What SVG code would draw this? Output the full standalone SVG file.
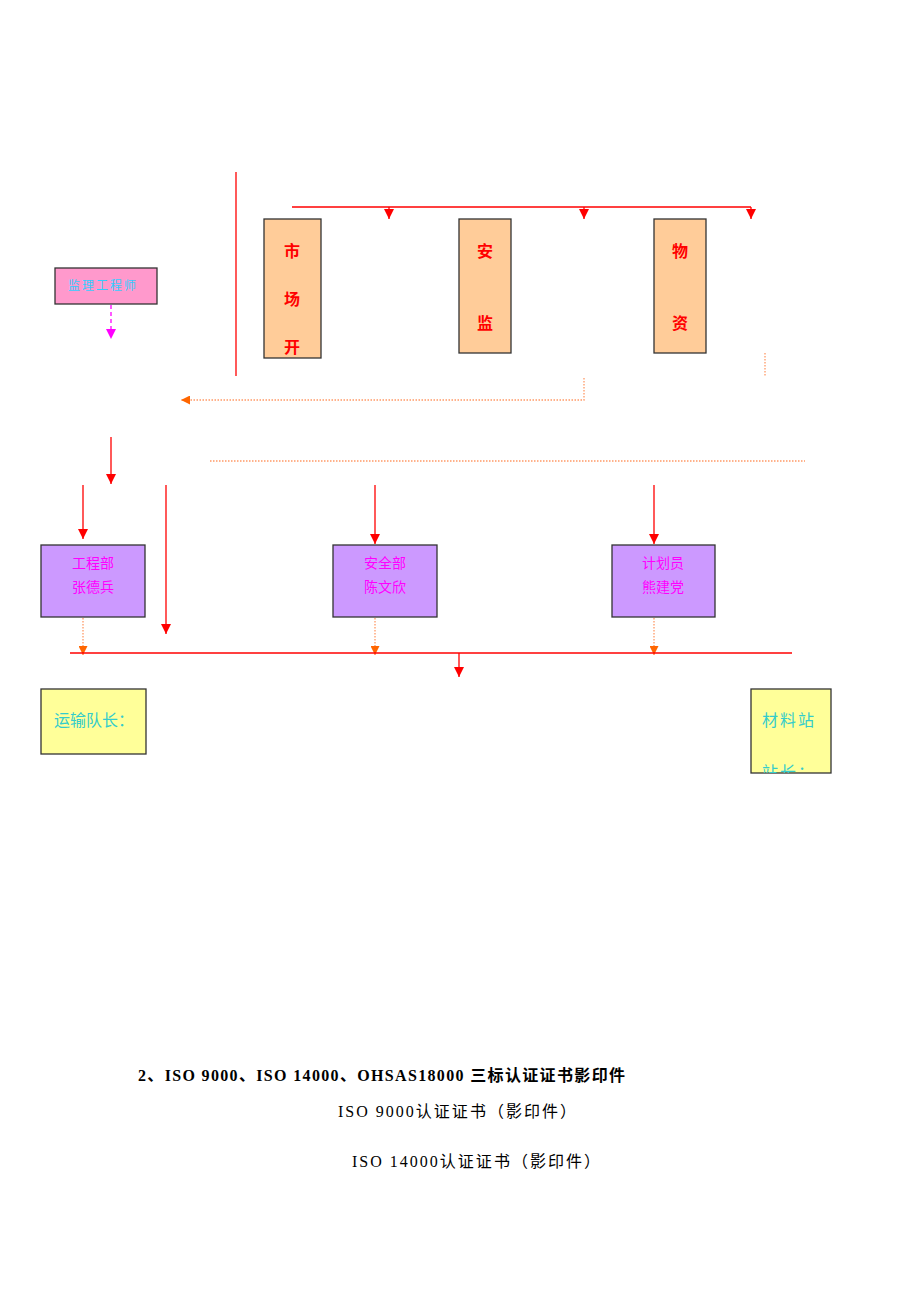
<svg xmlns="http://www.w3.org/2000/svg" width="920" height="1302" viewBox="0 0 920 1302">
<defs>
<style>
.red{stroke:#FF0000;stroke-width:1.3;fill:none}
.dot{stroke:#FF9966;stroke-width:1.3;fill:none;stroke-dasharray:1.5 1.5}
.peach{fill:#FFCC99;stroke:#333;stroke-width:1.3}
.purple{fill:#CC99FF;stroke:#333;stroke-width:1.3}
.yellow{fill:#FFFF99;stroke:#333;stroke-width:1.3}
.pink{fill:#FF99CC;stroke:#333;stroke-width:1.3}
.vt{font-family:"Noto Sans CJK SC","Noto Sans",sans-serif;font-size:16px;font-weight:bold;fill:#FF0000;text-anchor:middle}
.pt{font-family:"Liberation Serif","Noto Sans CJK SC",serif;font-size:14px;fill:#FF00FF;text-anchor:middle}
.yt{font-family:"Noto Sans CJK SC",sans-serif;font-size:16px;fill:#33CCCC}
.bt{font-family:"Liberation Serif","Noto Sans CJK SC",serif;font-size:16px;fill:#000}
</style>
<marker id="ar" viewBox="0 0 10 10" refX="10" refY="5" markerWidth="10" markerHeight="10" markerUnits="userSpaceOnUse" orient="auto">
<path d="M0,0 L10,5 L0,10 Z" fill="#FF0000"/>
</marker>
<marker id="ao" viewBox="0 0 10 10" refX="10" refY="5" markerWidth="9" markerHeight="9" markerUnits="userSpaceOnUse" orient="auto">
<path d="M0,0 L10,5 L0,10 Z" fill="#FF6600"/>
</marker>
<marker id="am" viewBox="0 0 10 10" refX="10" refY="5" markerWidth="10" markerHeight="10" markerUnits="userSpaceOnUse" orient="auto">
<path d="M0,0 L10,5 L0,10 Z" fill="#FF00FF"/>
</marker>
<clipPath id="clipY"><rect x="751" y="689" width="80" height="84"/></clipPath>
</defs>

<g id="connectors">
<line class="red" x1="236" y1="172" x2="236" y2="376"/>
<line class="red" x1="292" y1="207" x2="751" y2="207"/>
<line class="red" x1="389" y1="207" x2="389" y2="219" marker-end="url(#ar)"/>
<line class="red" x1="584" y1="207" x2="584" y2="219" marker-end="url(#ar)"/>
<line class="red" x1="751" y1="207" x2="751" y2="219" marker-end="url(#ar)"/>
<line x1="111" y1="305" x2="111" y2="339" stroke="#FF00FF" stroke-width="1.3" stroke-dasharray="4 3" marker-end="url(#am)"/>
<line class="dot" x1="765" y1="353" x2="765" y2="376"/>
<polyline class="dot" points="584,378 584,400 181,400" marker-end="url(#ao)"/>
<line class="dot" x1="210" y1="461" x2="805" y2="461"/>
<line class="red" x1="111" y1="437" x2="111" y2="484" marker-end="url(#ar)"/>
<line class="red" x1="83" y1="485" x2="83" y2="539" marker-end="url(#ar)"/>
<line class="red" x1="166" y1="485" x2="166" y2="634" marker-end="url(#ar)"/>
<line class="red" x1="375" y1="485" x2="375" y2="544" marker-end="url(#ar)"/>
<line class="red" x1="654" y1="485" x2="654" y2="544" marker-end="url(#ar)"/>
<line class="dot" x1="83" y1="618" x2="83" y2="655" marker-end="url(#ao)"/>
<line class="dot" x1="375" y1="618" x2="375" y2="655" marker-end="url(#ao)"/>
<line class="dot" x1="654" y1="618" x2="654" y2="655" marker-end="url(#ao)"/>
<line class="red" x1="70" y1="653" x2="792" y2="653"/>
<line class="red" x1="459" y1="653" x2="459" y2="677" marker-end="url(#ar)"/>
</g>

<g id="n_shichang">
<rect class="peach" x="264" y="219" width="57" height="139"/>
<text class="vt" x="292" y="257">市</text>
<text class="vt" x="292" y="305">场</text>
<text class="vt" x="292" y="353">开</text>
</g>
<g id="n_anjian">
<rect class="peach" x="459" y="219" width="52" height="134"/>
<text class="vt" x="485" y="257">安</text>
<text class="vt" x="485" y="329">监</text>
</g>
<g id="n_wuzi">
<rect class="peach" x="654" y="219" width="52" height="134"/>
<text class="vt" x="680" y="257">物</text>
<text class="vt" x="680" y="329">资</text>
</g>
<g id="n_jianli">
<rect class="pink" x="55" y="268" width="102" height="36"/>
<text x="68" y="290" font-family="Noto Sans CJK SC,sans-serif" font-size="12" fill="#33CCFF" letter-spacing="2">监理工程师</text>
</g>
<g id="n_gongcheng">
<rect class="purple" x="41" y="545" width="104" height="72"/>
<text class="pt" x="93" y="568">工程部</text>
<text class="pt" x="93" y="592">张德兵</text>
</g>
<g id="n_anquan">
<rect class="purple" x="333" y="545" width="104" height="72"/>
<text class="pt" x="385" y="568">安全部</text>
<text class="pt" x="385" y="592">陈文欣</text>
</g>
<g id="n_jihua">
<rect class="purple" x="612" y="545" width="103" height="72"/>
<text class="pt" x="663" y="568">计划员</text>
<text class="pt" x="663" y="592">熊建党</text>
</g>
<g id="n_yunshu">
<rect class="yellow" x="41" y="689" width="105" height="65"/>
<text class="yt" x="54" y="726">运输队长：</text>
</g>
<g id="n_cailiao">
<rect class="yellow" x="751" y="689" width="80" height="84"/>
<g clip-path="url(#clipY)">
<text class="yt" x="762" y="726" letter-spacing="2">材料站</text>
<text class="yt" x="762" y="778" letter-spacing="2">站长：</text>
</g>
</g>

<g id="caption">
<text class="bt" x="138" y="1081" font-weight="bold" textLength="487" lengthAdjust="spacing">2、ISO 9000、ISO 14000、OHSAS18000 三标认证证书影印件</text>
<text class="bt" x="338" y="1117" textLength="238" lengthAdjust="spacing">ISO 9000认证证书（影印件）</text>
<text class="bt" x="352" y="1167" textLength="248" lengthAdjust="spacing">ISO 14000认证证书（影印件）</text>
</g>
</svg>
